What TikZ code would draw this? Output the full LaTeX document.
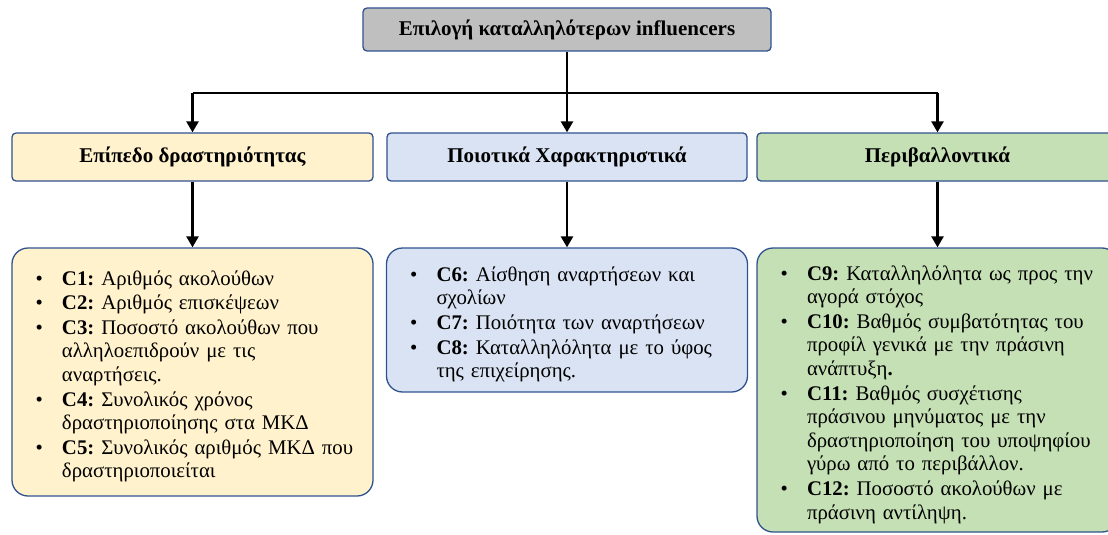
\documentclass[tikz,border=0pt]{standalone}
\usepackage{fontspec}
\setmainfont{Liberation Serif}
\usepackage{enumitem}
\usetikzlibrary{arrows.meta}

\definecolor{edgeblue}{HTML}{2F528F}
\definecolor{headgray}{HTML}{BFBFBF}
\definecolor{fillyellow}{HTML}{FFF2CC}
\definecolor{fillblue}{HTML}{DAE3F3}
\definecolor{fillgreen}{HTML}{C5E0B4}

\frenchspacing

\newcommand{\critlist}[1]{%
  \begin{itemize}[nosep,leftmargin=28pt,rightmargin=-30pt,labelsep=19pt,label=\textbullet,itemsep=1pt]
  #1
  \end{itemize}}

\begin{document}
\begin{tikzpicture}[x=1pt,y=-1pt,
  headbox/.style={draw=edgeblue, line width=1.3pt, rounded corners=4pt,
    font=\bfseries\fontsize{21}{24}\selectfont, align=center, inner sep=0pt},
  listbox/.style={draw=edgeblue, line width=1.3pt, rounded corners=16pt,
    inner xsep=22pt, inner ysep=0pt, text width=317pt, align=left,
    font=\fontsize{20.8}{23.6}\selectfont, minimum width=361pt},
  link/.style={line width=2.5pt, draw=black},
  arrow/.style={link, -{Triangle[width=12pt,length=11pt]}}]

\useasboundingbox (0,0) rectangle (1108,535);
\clip (0,0) rectangle (1108,535);

% goal
\node[headbox, fill=headgray, minimum width=408pt, minimum height=43pt] (goal)
  at (567,29.5) {Επιλογή καταλληλότερων influencers};

% criterion groups
\node[headbox, fill=fillyellow, minimum width=361pt, minimum height=48pt] (act)
  at (192.5,157) {Επίπεδο δραστηριότητας};
\node[headbox, fill=fillblue, minimum width=360pt, minimum height=48pt] (qual)
  at (567,157) {Ποιοτικά Χαρακτηριστικά};
\node[headbox, fill=fillgreen, minimum width=361pt, minimum height=48pt] (env)
  at (937.5,157) {Περιβαλλοντικά};

% criteria lists
\node[listbox, fill=fillyellow, minimum height=248pt] (actlist) at (192.5,372) {%
  \critlist{
  \item \textbf{C1:} Αριθμός ακολούθων
  \item \textbf{C2:} Αριθμός επισκέψεων
  \item \textbf{C3:} Ποσοστό ακολούθων που\newline αλληλοεπιδρούν με τις\newline αναρτήσεις.
  \item \textbf{C4:} Συνολικός χρόνος\newline δραστηριοποίησης στα ΜΚΔ
  \item \textbf{C5:} Συνολικός αριθμός ΜΚΔ που\newline δραστηριοποιείται}};

\node[listbox, fill=fillblue, minimum width=360pt, minimum height=144pt] (quallist) at (567,320) {%
  \critlist{
  \item \textbf{C6:} Αίσθηση αναρτήσεων και\newline σχολίων
  \item \textbf{C7:} Ποιότητα των αναρτήσεων
  \item \textbf{C8:} Καταλληλόλητα με το ύφος\newline της επιχείρησης.}};

\node[listbox, fill=fillgreen, minimum height=284pt] (envlist) at (937.5,390) {%
  \critlist{
  \item \textbf{C9:} Καταλληλόλητα ως προς την\newline αγορά στόχος
  \item \textbf{C10:} Βαθμός συμβατότητας του\newline προφίλ γενικά με την πράσινη\newline ανάπτυξη\textbf{.}
  \item \textbf{C11:} Βαθμός συσχέτισης\newline πράσινου μηνύματος με την\newline δραστηριοποίηση του υποψηφίου\newline γύρω από το περιβάλλον.
  \item \textbf{C12:} Ποσοστό ακολούθων με\newline πράσινη αντίληψη.}};

% connectors
\coordinate (busL) at (192.5,93);
\coordinate (busR) at (937.5,93);
\draw[link] (busL) -- (busR);
\draw[arrow] (goal.south) -- (qual.north);
\draw[arrow] (busL) -- (act.north);
\draw[arrow] (busR) -- (env.north);
\draw[arrow] (act.south) -- (actlist.north);
\draw[arrow] (qual.south) -- (quallist.north);
\draw[arrow] (env.south) -- (envlist.north);
\end{tikzpicture}
\end{document}
